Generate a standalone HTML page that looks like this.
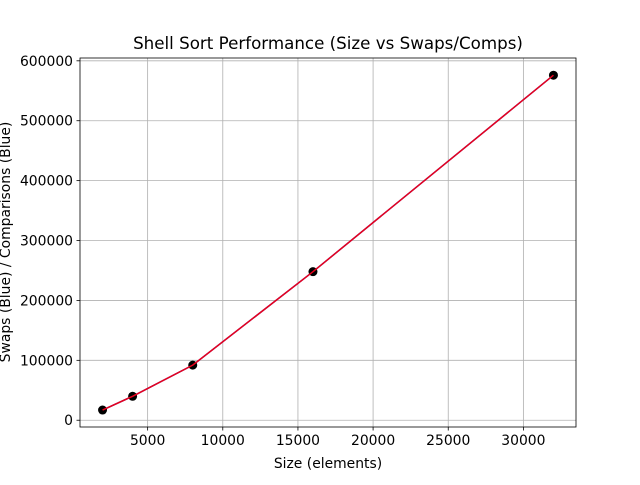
<!DOCTYPE html>
<html><head><meta charset="utf-8"><style>
body{margin:0;background:#fff}
svg text{font-family:"DejaVu Sans","Liberation Sans",sans-serif;fill:#000}
</style></head><body>
<svg id="chart" width="640" height="480">
<rect x="0" y="0" width="640" height="480" fill="#fff"/>
<g id="grid"></g><g id="ticks"></g><g id="series"></g>
<rect x="80" y="58" width="496" height="369" fill="none" stroke="#000" stroke-width="0.8"/>
<text x="328" y="49" font-size="16.7" text-anchor="middle">Shell Sort Performance (Size vs Swaps/Comps)</text>
<text x="328" y="468" font-size="13.9" text-anchor="middle">Size (elements)</text>
<text transform="translate(10,242) rotate(-90)" font-size="13.9" text-anchor="middle">Swaps (Blue) / Comparisons (Blue)</text>
</svg>
<script>
const sizes=[2000,4000,8000,16000,32000];
const swaps=[17000,40000,92000,248000,576000];
const comps=[17000,40000,92000,248000,576000];
const xTicks=[5000,10000,15000,20000,25000,30000];
const yTicks=[0,100000,200000,300000,400000,500000,600000];
const NS='http://www.w3.org/2000/svg';
const X0=80,X1=576,Y0=427,Y1=58;
const xmin=500,xmax=33500,ymin=-11300,ymax=604700;
const sx=v=>X0+(v-xmin)/(xmax-xmin)*(X1-X0);
const sy=v=>Y0-(v-ymin)/(ymax-ymin)*(Y0-Y1);
function mk(t,a,p){const e=document.createElementNS(NS,t);for(const k in a)e.setAttribute(k,a[k]);p.appendChild(e);return e;}
const grid=document.getElementById('grid'),ticks=document.getElementById('ticks'),ser=document.getElementById('series');
xTicks.forEach(v=>{const x=sx(v);
const g=mk('line',{x1:x,x2:x,y1:Y1,y2:Y0,stroke:'#b0b0b0','stroke-width':0.8},grid);


const t=mk('line',{x1:x,x2:x,y1:Y0,y2:Y0+3.5,stroke:'#000','stroke-width':0.8},ticks);


const l=mk('text',{x:x,y:Y0+18,'font-size':13.9,'text-anchor':'middle'},ticks);l.textContent=v;

});
yTicks.forEach(v=>{const y=sy(v);
const g=mk('line',{x1:X0,x2:X1,y1:y,y2:y,stroke:'#b0b0b0','stroke-width':0.8},grid);


const t=mk('line',{x1:X0-3.5,x2:X0,y1:y,y2:y,stroke:'#000','stroke-width':0.8},ticks);


const l=mk('text',{x:X0-7,y:y+5,'font-size':13.9,'text-anchor':'end'},ticks);l.textContent=v;

});
const pb=mk('polyline',{points:sizes.map((s,i)=>sx(s)+','+sy(comps[i])).join(' '),fill:'none',stroke:'#1f3fd0','stroke-width':1.5},ser);


sizes.forEach((s,i)=>{const c=mk('circle',{cx:sx(s),cy:sy(swaps[i]),r:4.5,fill:'#000'},ser);

});
const pr=mk('polyline',{points:sizes.map((s,i)=>sx(s)+','+sy(swaps[i])).join(' '),fill:'none',stroke:'#e8001c','stroke-width':1.5},ser);


</script>
</body></html>
